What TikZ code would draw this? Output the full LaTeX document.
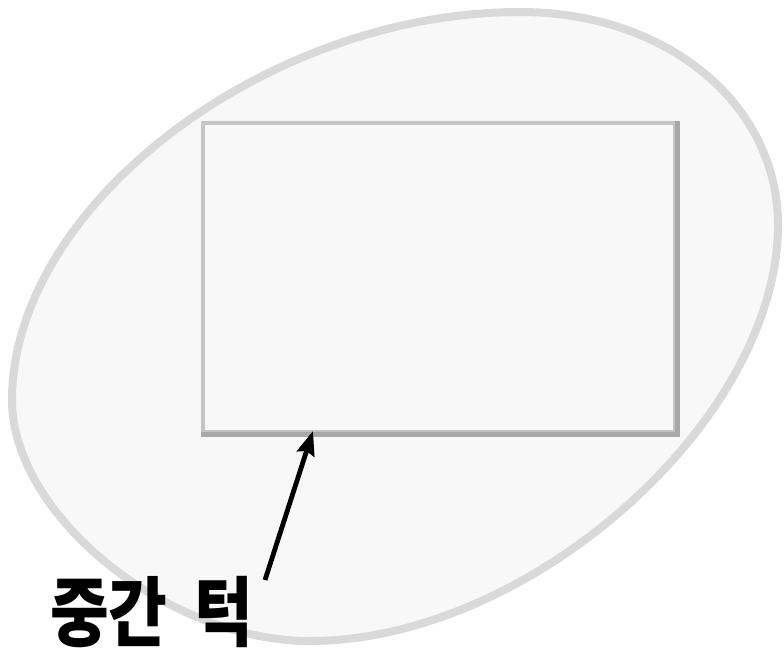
\documentclass[tikz,border=0pt]{standalone}
\usepackage{fontspec}
\newfontfamily\kr{Noto Sans CJK KR}
\usetikzlibrary{arrows.meta}
\definecolor{ovalline}{HTML}{D9D9D9}
\definecolor{ovalfill}{HTML}{F8F8F8}
\definecolor{boxline}{HTML}{C4C4C4}
\definecolor{boxdark}{HTML}{A8A8A8}
\tikzset{
  oval/.style={draw=ovalline, fill=ovalfill, line width=8pt},
  ledgebox/.style={draw=boxline, fill=ovalfill, line width=4.5pt, minimum width=472pt, minimum height=309pt, inner sep=0pt},
  shade edge/.style={draw=boxdark, line width=4.5pt, line cap=butt, line join=miter},
  label/.style={font=\kr\bfseries\fontsize{76}{76}\selectfont, inner sep=0pt, text=black},
  pointer/.style={line width=4.8pt, -{Stealth[length=24pt, width=18pt, inset=3pt]}}
}
\begin{document}
\begin{tikzpicture}[x=1pt, y=-1pt]
  \useasboundingbox (0,0) rectangle (784,650);
  % egg-shaped outline through its top, right, bottom and left extremes
  \draw[oval] (520,12)
     .. controls (667,12) and (778,104) .. (778,225)
     .. controls (778,420) and (530,641) .. (310,641)
     .. controls (167,641) and (12,515) .. (12,400)
     .. controls (12,206) and (266,12) .. cycle;
  \node[ledgebox] (ledge) at (439,277.5) {};
  \draw[shade edge] (ledge.south west) -- (ledge.south east) -- (ledge.north east);
  \coordinate (tip) at (313,431);
  \coordinate (tail) at (265,580);
  \node[label, anchor=base west] (lbl) at (50,640) {\scalebox{0.84}[1]{중간\hspace{0.42em}턱}};
  \draw[pointer] (tail) -- (tip);
\end{tikzpicture}
\end{document}
